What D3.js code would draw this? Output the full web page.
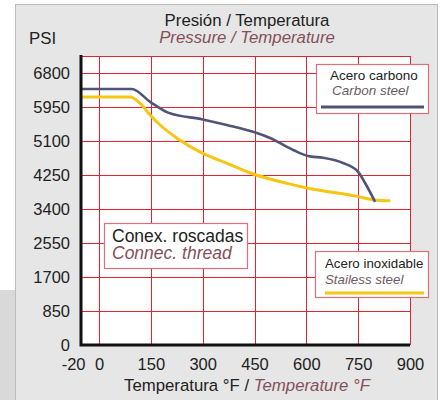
<!DOCTYPE html>
<html>
<head>
<meta charset="utf-8">
<script src="https://cdn.jsdelivr.net/npm/d3@7"></script>
<style>
  body { margin: 0; background: #fff; }
  svg { display: block; font-family: "Liberation Sans", Arial, sans-serif; }
</style>
</head>
<body>
<div class="graph"></div>
<script>
// temperature (°F) and pressure (PSI)
var carbonTemp  = [-20, 95, 148, 200, 300, 370, 446, 495, 562, 605, 648, 706, 750, 770, 799];
var carbonPsi   = [6400, 6400, 6080, 5810, 5640, 5500, 5330, 5175, 4875, 4725, 4680, 4550, 4330, 4050, 3580];
var steelTemp   = [-20, 90, 119, 148, 177, 226, 301, 371, 446, 544, 605, 750, 799, 843];
var steelPsi    = [6200, 6200, 6040, 5750, 5500, 5170, 4790, 4540, 4275, 4040, 3920, 3710, 3625, 3605];
var xTicks      = [-20, 0, 150, 300, 450, 600, 750, 900];
var yTicks      = [0, 850, 1700, 2550, 3400, 4250, 5100, 5950, 6800];

var width = 444, height = 400;
var pLeft = 81, pRight = 410, pTop = 56, pBottom = 345;

var svg = d3.select(".graph").append("svg")
    .attr("width", width)
    .attr("height", height);

// background panel
svg.append("rect").attr("x", 0).attr("y", 290).attr("width", 15).attr("height", 110).attr("fill", "#d9d9d9");
svg.append("rect")
    .attr("x", 15.5).attr("y", 4.5).attr("width", 422).attr("height", 400)
    .attr("fill", "#e6e6e6").attr("stroke", "#bcbcbc");

// -20 sits on the axis line, 0..900 are evenly spaced
var x = d3.scaleLinear()
    .domain([-20, 0, 900])
    .range([pLeft, 99, pRight]);

var y = d3.scaleLinear()
    .domain([0, 7225])
    .range([pBottom, pTop]);

var plot = svg.append("g");

plot.append("rect")
    .attr("x", pLeft).attr("y", pTop)
    .attr("width", pRight - pLeft).attr("height", pBottom - pTop)
    .attr("fill", "#fff");

var red = "#e2222e";

plot.selectAll(".vgrid")
    .data(xTicks.filter(function(d){ return d >= 0; }))
  .enter().append("line")
    .attr("class", "vgrid")
    .attr("x1", function(d){ return Math.round(x(d)) + 0.5; })
    .attr("x2", function(d){ return Math.round(x(d)) + 0.5; })
    .attr("y1", pTop).attr("y2", pBottom)
    .attr("stroke", red).attr("stroke-width", 1);

plot.selectAll(".hgrid")
    .data(yTicks.filter(function(d){ return d > 0; }).concat([7225]))
  .enter().append("line")
    .attr("class", "hgrid")
    .attr("x1", pLeft).attr("x2", pRight)
    .attr("y1", function(d){ return Math.round(y(d)) + 0.5; })
    .attr("y2", function(d){ return Math.round(y(d)) + 0.5; })
    .attr("stroke", red).attr("stroke-width", 1);

// curves
var line = d3.line()
    .x(function(d){ return x(d[0]); })
    .y(function(d){ return y(d[1]); })
    .curve(d3.curveMonotoneX);

plot.append("path")
    .datum(d3.zip(steelTemp, steelPsi))
    .attr("d", line)
    .attr("fill", "none").attr("stroke", "#f6c614").attr("stroke-width", 3);

plot.append("path")
    .datum(d3.zip(carbonTemp, carbonPsi))
    .attr("d", line)
    .attr("fill", "none").attr("stroke", "#4f5576").attr("stroke-width", 2.6);

// thick black axis lines
plot.append("path")
    .attr("d", "M" + pLeft + "," + (pTop - 1) + "V" + pBottom + "H" + pRight)
    .attr("fill", "none").attr("stroke", "#111").attr("stroke-width", 3);

// axes
var xAxis = d3.axisBottom(x)
    .tickValues(xTicks)
    .tickSize(0)
    .tickPadding(13)
    .tickFormat(function(d){ return String(d); });

var gx = svg.append("g")
    .attr("transform", "translate(0," + pBottom + ")")
    .call(xAxis);
gx.select(".domain").remove();
gx.selectAll("text")
    .attr("font-size", 16.5).attr("fill", "#222")
    .attr("font-family", "Liberation Sans, Arial, sans-serif")
    .filter(function(d){ return d === -20; })
    .attr("text-anchor", "end").attr("dx", 4);

var yAxis = d3.axisLeft(y)
    .tickValues(yTicks)
    .tickSize(0)
    .tickPadding(11)
    .tickFormat(function(d){ return String(d); });

var gy = svg.append("g")
    .attr("transform", "translate(" + pLeft + ",0)")
    .call(yAxis);
gy.select(".domain").remove();
gy.selectAll("text")
    .attr("font-size", 16.5).attr("fill", "#222")
    .attr("font-family", "Liberation Sans, Arial, sans-serif");

// titles
var mauve = "#84505a";
svg.append("text").attr("x", 247).attr("y", 26).attr("text-anchor", "middle")
    .attr("font-size", 16.8).attr("fill", "#222").text("Presión / Temperatura");
svg.append("text").attr("x", 247).attr("y", 43).attr("text-anchor", "middle")
    .attr("font-size", 16.8).attr("font-style", "italic").attr("fill", mauve)
    .text("Pressure / Temperature");
svg.append("text").attr("x", 29).attr("y", 44)
    .attr("font-size", 16.8).attr("fill", "#222").text("PSI");

var xl = svg.append("text").attr("x", 247).attr("y", 391).attr("text-anchor", "middle")
    .attr("font-size", 16.8).attr("fill", "#222");
xl.append("tspan").text("Temperatura °F / ");
xl.append("tspan").attr("font-style", "italic").attr("fill", mauve).text("Temperature °F");

// boxes
var boxStroke = "#d9707c";

function box(bx, by, bw, bh) {
  var g = svg.append("g");
  g.append("rect").attr("x", bx + 0.5).attr("y", by + 0.5)
      .attr("width", bw).attr("height", bh)
      .attr("fill", "#fff").attr("stroke", boxStroke).attr("stroke-width", 1.2);
  return g;
}

var g1 = box(316, 64, 112, 49);
g1.append("text").attr("x", 330).attr("y", 80).attr("font-size", 13.5).attr("fill", "#222").text("Acero carbono");
g1.append("text").attr("x", 332).attr("y", 95).attr("font-size", 13.5).attr("font-style", "italic").attr("fill", "#6e5a62").text("Carbon steel");
g1.append("line").attr("x1", 321).attr("x2", 424).attr("y1", 107).attr("y2", 107)
    .attr("stroke", "#4f5576").attr("stroke-width", 3);

var g2 = box(315, 251, 113, 46);
g2.append("text").attr("x", 325).attr("y", 268).attr("font-size", 13.3).attr("fill", "#222").text("Acero inoxidable");
g2.append("text").attr("x", 325).attr("y", 284).attr("font-size", 13.3).attr("font-style", "italic").attr("fill", "#6e5a62").text("Stailess steel");
g2.append("line").attr("x1", 325).attr("x2", 424).attr("y1", 293).attr("y2", 293)
    .attr("stroke", "#f6c614").attr("stroke-width", 3);

var g3 = box(104, 223, 143, 45);
g3.append("text").attr("x", 112).attr("y", 242).attr("font-size", 17.5).attr("fill", "#222").text("Conex. roscadas");
g3.append("text").attr("x", 112).attr("y", 259).attr("font-size", 17.5).attr("font-style", "italic").attr("fill", mauve).text("Connec. thread");
</script>
</body>
</html>
